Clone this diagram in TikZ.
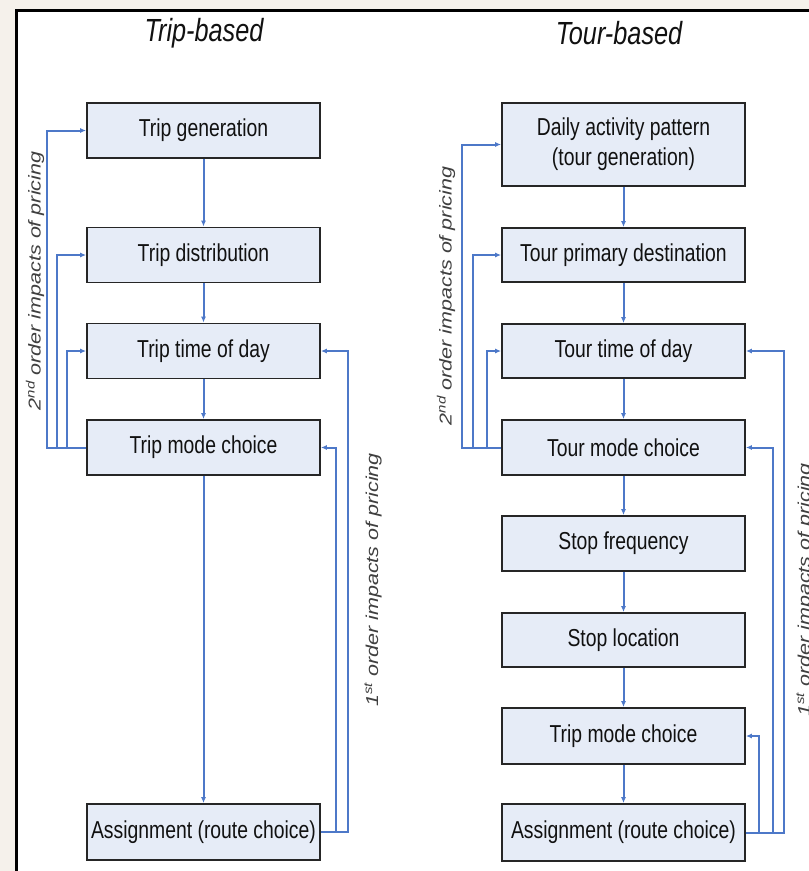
\documentclass[tikz,border=0pt]{standalone}
\usepackage{graphicx}
\usepackage{fontspec}
\setmainfont{Liberation Sans}
\newfontfamily\boxfont{Liberation Sans}[FakeStretch=0.79]
\newfontfamily\labfont{Liberation Sans}
\usetikzlibrary{arrows.meta,calc}
\definecolor{beige}{HTML}{F5F1EB}
\definecolor{boxblue}{HTML}{E6ECF7}
\definecolor{arrowblue}{HTML}{4D78C8}
\definecolor{txt}{HTML}{111111}
\begin{document}
\begin{tikzpicture}[x=1pt,y=-1pt,
  box/.style={draw=black!85, line width=1.8pt, fill=boxblue, inner sep=0pt,
    text=txt, align=center, font=\boxfont\fontsize{24.5}{30}\selectfont},
  lbox/.style={box, minimum width=233pt, minimum height=55pt},
  rbox/.style={box, minimum width=243pt, minimum height=55pt},
  flow/.style={draw=arrowblue, line width=2pt, -{Latex[length=6pt,width=5pt]}},
  title/.style={text=txt, font=\boxfont\itshape\fontsize{32}{34}\selectfont},
  rlab/.style={rotate=90, text=black!75, font=\labfont\itshape\fontsize{21.5}{21.5}\selectfont}
]
\useasboundingbox (0,0) rectangle (809,871);
\clip (0,0) rectangle (809,871);
\fill[beige] (0,0) rectangle (809,871);
\fill[white] (16,10) rectangle (830,890);
\draw[line width=3pt, black] (16,890) -- (16,10) -- (830,10);

% titles
\node[title] (t1) at (204,33) {Trip-based};
\node[title] (t2) at (619,33) {Tour-based};

% left column
\node[lbox] (L1) at (203.5,130.5) {Trip generation};
\node[lbox] (L2) at (203.5,255) {Trip distribution};
\node[lbox] (L3) at (203.5,351) {Trip time of day};
\node[lbox] (L4) at (203.5,447.5) {Trip mode choice};
\node[lbox, minimum height=56pt] (L5) at (203.5,832) {Assignment (route choice)};

% right column
\node[rbox, minimum height=83pt] (R1) at (623.5,144.5) {Daily activity pattern\\(tour generation)};
\node[rbox, minimum height=54pt] (R2) at (623.5,255) {Tour primary destination};
\node[rbox, minimum height=54pt] (R3) at (623.5,351) {Tour time of day};
\node[rbox] (R4) at (623.5,447.5) {Tour mode choice};
\node[rbox] (R5) at (623.5,543.5) {Stop frequency};
\node[rbox, minimum height=54pt] (R6) at (623.5,640) {Stop location};
\node[rbox, minimum height=56pt] (R7) at (623.5,736) {Trip mode choice};
\node[rbox, minimum height=57pt] (R8) at (623.5,832.5) {Assignment (route choice)};

% main flow
\draw[flow] (L1.south) -- (L2.north);
\draw[flow] (L2.south) -- (L3.north);
\draw[flow] (L3.south) -- (L4.north);
\draw[flow] (L4.south) -- (L5.north);
\draw[flow] (R1.south) -- (R2.north);
\draw[flow] (R2.south) -- (R3.north);
\draw[flow] (R3.south) -- (R4.north);
\draw[flow] (R4.south) -- (R5.north);
\draw[flow] (R5.south) -- (R6.north);
\draw[flow] (R6.south) -- (R7.north);
\draw[flow] (R7.south) -- (R8.north);

% second order feedback, left column
\draw[flow] (L4.west) -- ++(-39,0) |- (L1.west);
\draw[flow] (L4.west) -- ++(-29,0) |- (L2.west);
\draw[flow] (L4.west) -- ++(-19,0) |- (L3.west);
% first order feedback, left column
\draw[flow] (L5.east) -- ++(15,0) |- (L4.east);
\draw[flow] (L5.east) -- ++(27,0) |- (L3.east);

% second order feedback, right column
\draw[flow] (R4.west) -- ++(-39,0) |- (R1.west);
\draw[flow] (R4.west) -- ++(-28,0) |- (R2.west);
\draw[flow] (R4.west) -- ++(-14,0) |- (R3.west);
% first order feedback, right column
\draw[flow] (R8.east) -- ++(13,0) |- (R7.east);
\draw[flow] (R8.east) -- ++(27,0) |- (R4.east);
\draw[flow] (R8.east) -- ++(38,0) |- (R3.east);

% labels
\node[rlab] (a1) at (35,281) {\scalebox{1}[0.8]{2\textsuperscript{nd} order impacts of pricing}};
\node[rlab] (a2) at (373,580) {\scalebox{1}[0.8]{1\textsuperscript{st} order impacts of pricing}};
\node[rlab] (a3) at (446,296) {\scalebox{1}[0.8]{2\textsuperscript{nd} order impacts of pricing}};
\node[rlab] (a4) at (805,590) {\scalebox{1}[0.8]{1\textsuperscript{st} order impacts of pricing}};
\end{tikzpicture}
\end{document}
